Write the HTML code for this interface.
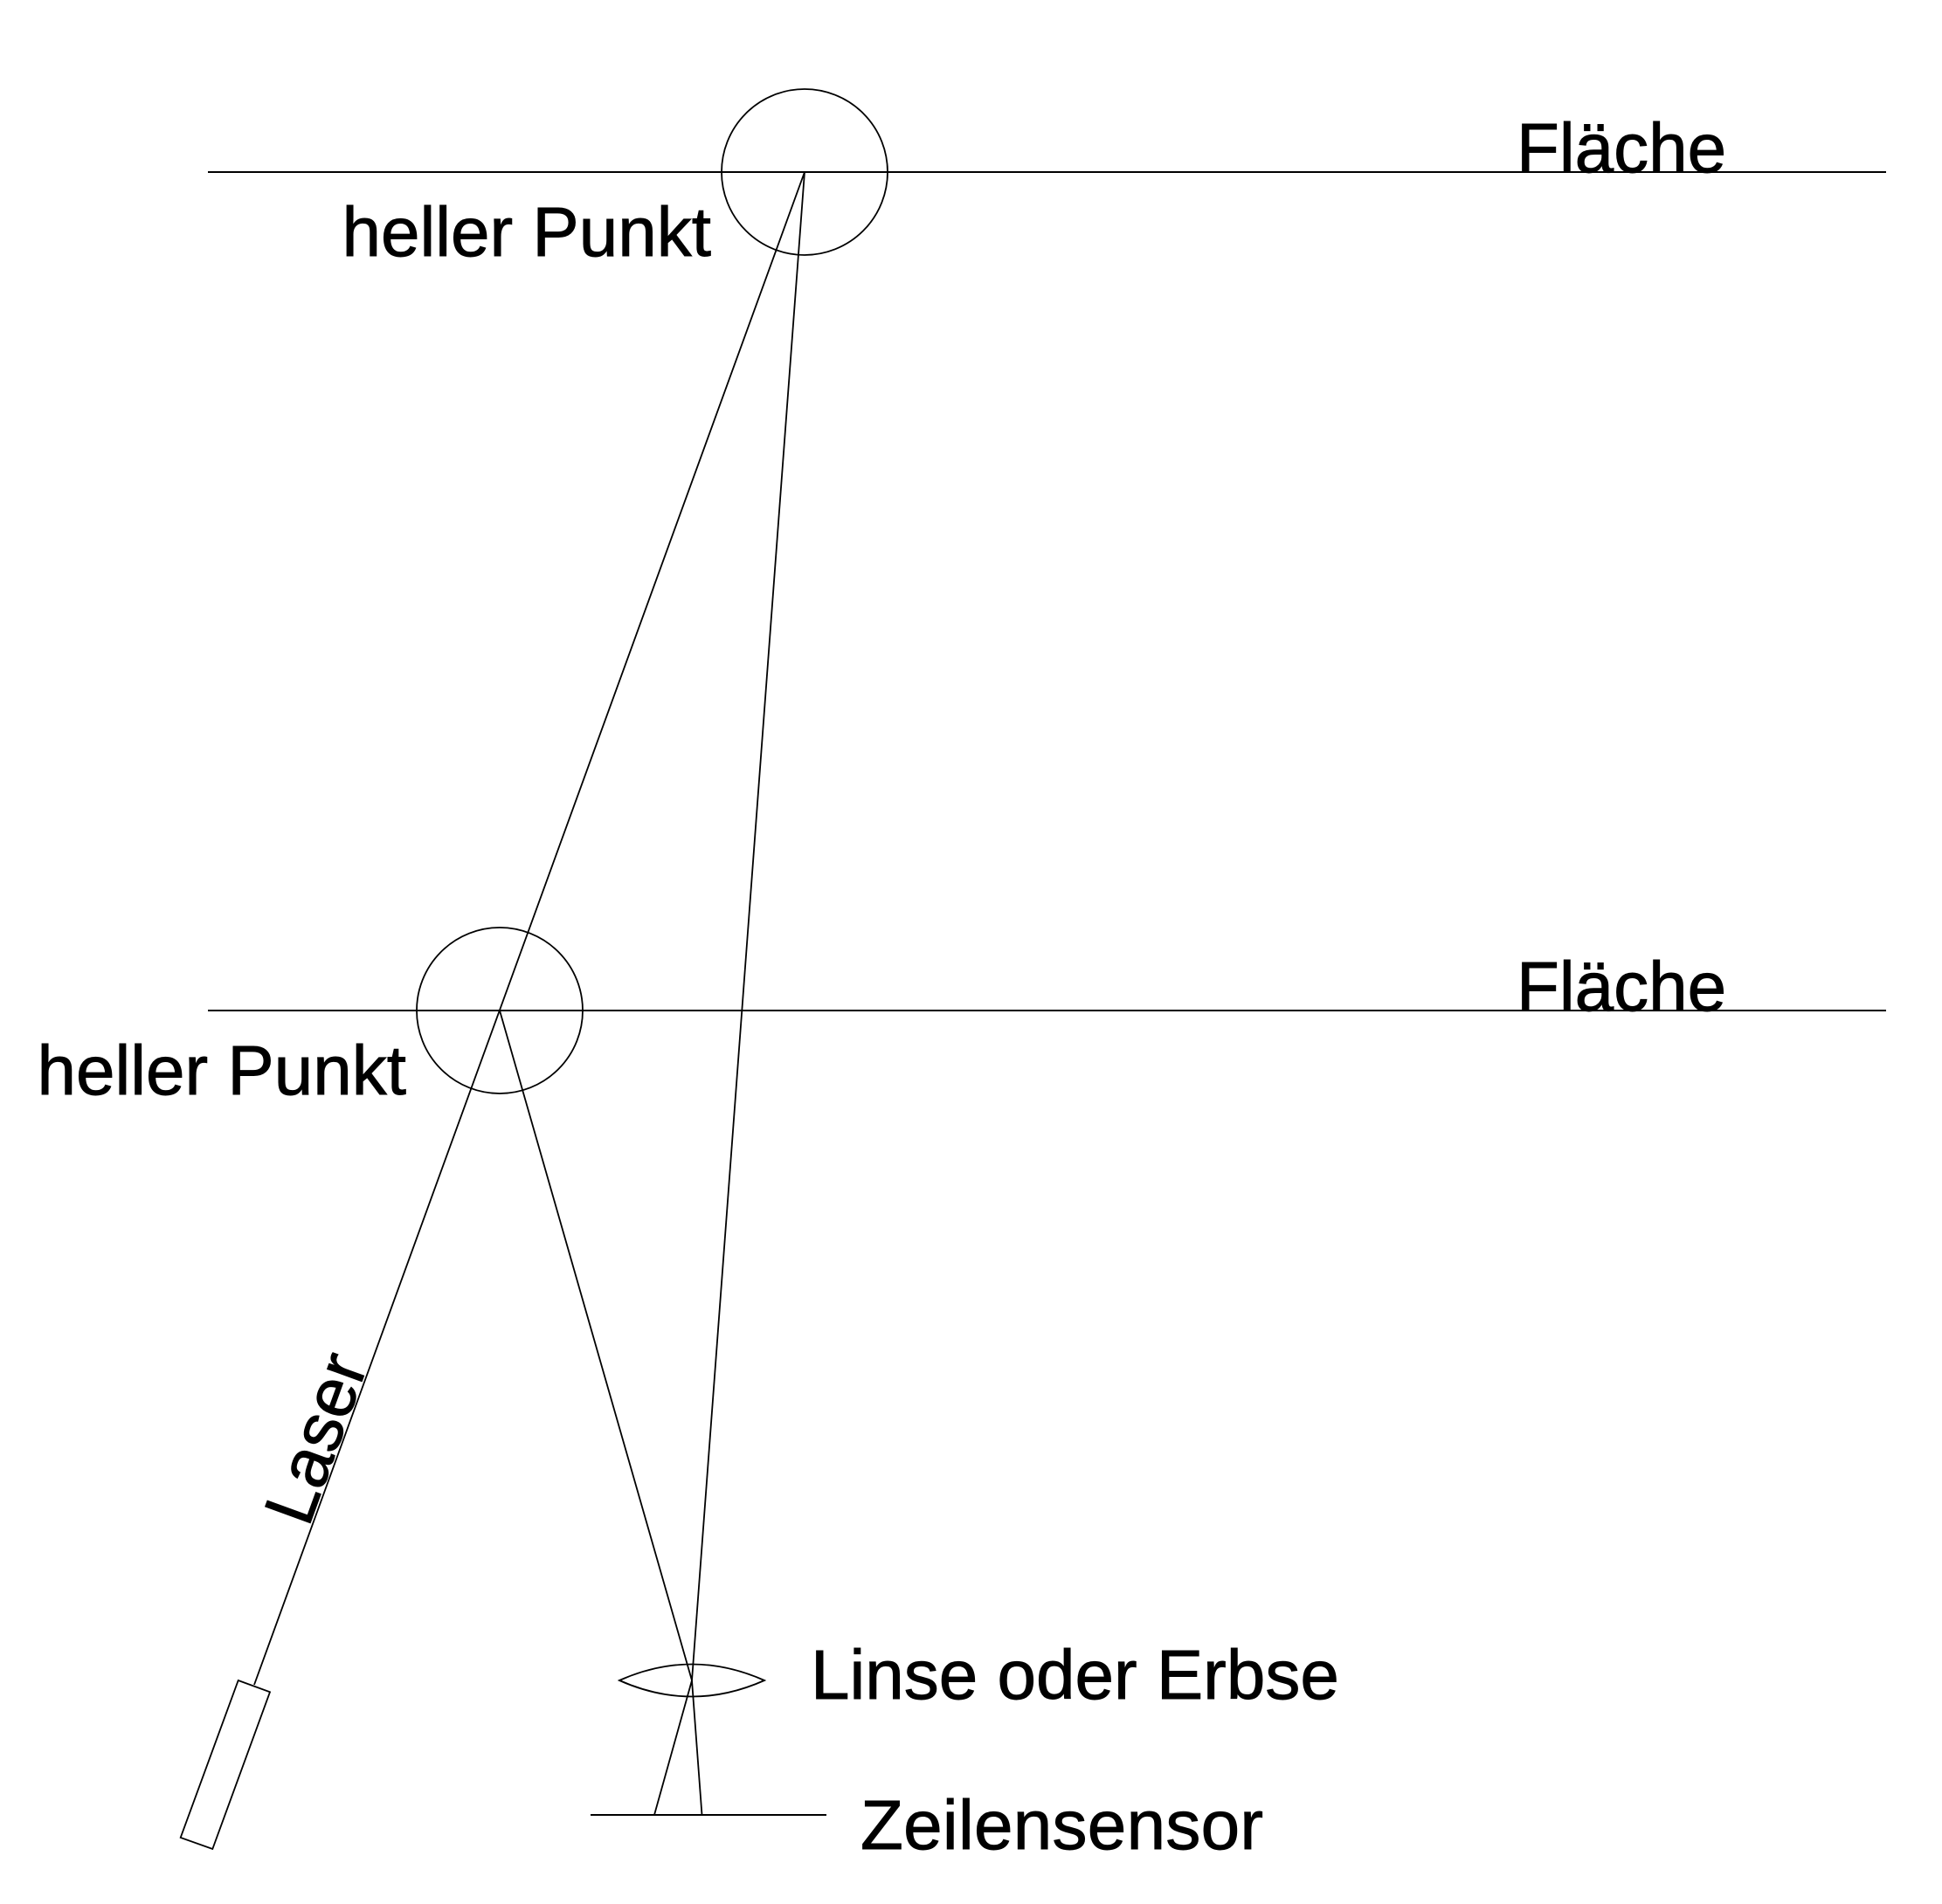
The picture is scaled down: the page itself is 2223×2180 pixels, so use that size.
<!DOCTYPE html>
<html lang="de">
<head>
<meta charset="utf-8">
<title>Laser-Triangulation</title>
<style>
html,body{margin:0;padding:0;background:#fff;}
svg{display:block;}
text{font-family:"Liberation Sans",Arial,sans-serif;font-size:80px;fill:#000;stroke:#000;stroke-width:0.9;}
.h{stroke:#000;stroke-width:2;fill:none;}
.t{stroke:#000;stroke-width:1.8;fill:none;}
</style>
</head>
<body>
<svg xmlns="http://www.w3.org/2000/svg" width="2223" height="2180" viewBox="0 0 2223 2180">
<rect width="2223" height="2180" fill="#fff"/>
<line class="h" x1="238" y1="197" x2="2159" y2="197"/>
<line class="h" x1="238" y1="1157" x2="2159" y2="1157"/>
<circle class="t" cx="921" cy="197" r="95"/>
<circle class="t" cx="572" cy="1157" r="95"/>
<line class="t" x1="921" y1="197" x2="291" y2="1929"/>
<line class="t" x1="921" y1="197" x2="792" y2="1924"/>
<line class="t" x1="572" y1="1157" x2="792" y2="1924"/>
<line class="t" x1="792" y1="1924" x2="749" y2="2078"/>
<line class="t" x1="792" y1="1924" x2="803.5" y2="2078"/>
<line class="h" x1="676" y1="2078" x2="946" y2="2078"/>
<path class="t" d="M709 1924 Q792 1887 875 1924 Q792 1961 709 1924 Z"/>
<polygon class="t" points="272.7,1924 309,1937.3 243.3,2117 206.7,2104"/>
<text x="1736" y="197">Fläche</text>
<text x="1736" y="1157">Fläche</text>
<text x="391.5" y="293">heller Punkt</text>
<text x="42.5" y="1253">heller Punkt</text>
<text x="928" y="1945">Linse oder Erbse</text>
<text x="985" y="2117" textLength="461">Zeilensensor</text>
<text transform="translate(353,1750) rotate(-70)">Laser</text>
</svg>
</body>
</html>
